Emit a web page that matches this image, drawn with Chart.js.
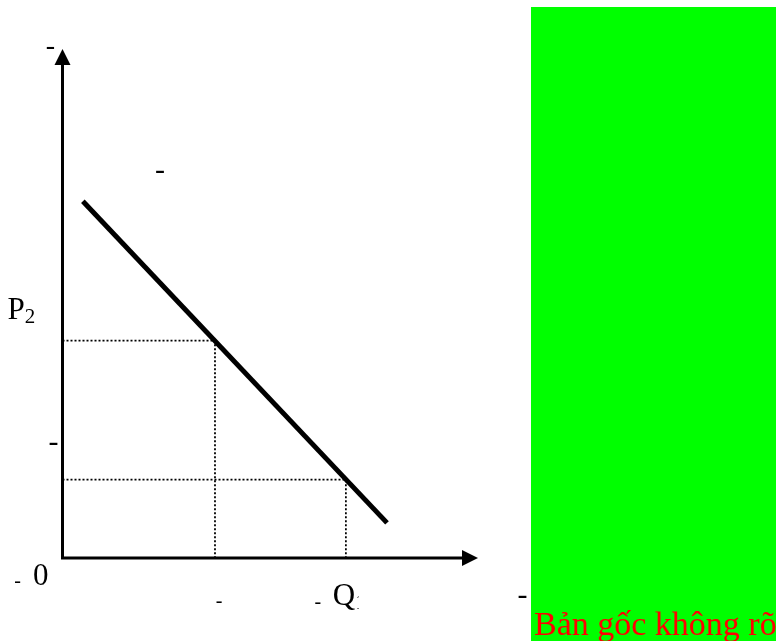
<!DOCTYPE html>
<html>
<head>
<meta charset="utf-8">
<script src="https://cdn.jsdelivr.net/npm/chart.js@4.4.1/dist/chart.umd.min.js"></script>
<style>
  html, body { margin: 0; padding: 0; background: #fff; overflow: hidden; }
  #wrap { width: 776px; height: 641px; position: relative; }
</style>
</head>
<body>
<div id="wrap"><canvas id="demandChart"></canvas></div>
<script>
// demand curve end points (quantity, price)
const demandQ = [4.9, 78.1];
const demandP = [70.1, 6.9];

// marked points on the curve
const markQ = [36.7, 68.2];
const markP = [42.7, 15.4];

// tick labels: first letter is the symbol, the rest is the subscript
const priceTickLabels = ['P2', ''];
const qtyTickLabels = ['', 'Q1'];
const originLabel = '0';
const noteText = 'Bản gốc không rõ';

const SERIF = '"Liberation Serif", "Times New Roman", serif';

const demandLine = demandQ.map((q, i) => ({ x: q, y: demandP[i] }));

// dotted guides from each marked point to both axes
const guideSets = markQ.map((q, i) => ({
    data: [{ x: 0, y: markP[i] }, { x: q, y: markP[i] }, { x: q, y: 0 }],
    borderColor: '#000',
    borderWidth: 1.8,
    borderDash: [2, 2],
    pointRadius: 0,
    fill: false,
    tension: 0
}));

function hyphen(ctx, cx, cy, size) {
    ctx.font = size + 'px ' + SERIF;
    ctx.textAlign = 'center';
    ctx.textBaseline = 'alphabetic';
    ctx.fillText('-', cx, cy + size * 0.23);
}

function subLabel(ctx, text, x, base, size, clipRight) {
    ctx.textAlign = 'left';
    ctx.textBaseline = 'alphabetic';
    ctx.font = size + 'px ' + SERIF;
    ctx.fillText(text[0], x, base);
    const w = ctx.measureText(text[0]).width;
    if (text.length > 1) {
        ctx.save();
        if (clipRight) {
            ctx.beginPath();
            ctx.rect(0, 0, clipRight, 641);
            ctx.clip();
        }
        ctx.font = Math.round(size * 0.67) + 'px ' + SERIF;
        ctx.fillText(text.slice(1), x + w, base + 4);
        ctx.restore();
    }
}

const axesPlugin = {
    id: 'axesPlugin',
    afterDatasetsDraw(chart) {
        const { ctx, chartArea: a, scales: { x, y } } = chart;
        ctx.save();
        ctx.fillStyle = '#000';
        ctx.strokeStyle = '#000';
        ctx.lineWidth = 3;

        // axes with arrow heads
        ctx.beginPath();
        ctx.moveTo(a.left, a.top + 14);
        ctx.lineTo(a.left, a.bottom);
        ctx.lineTo(a.right - 14, a.bottom);
        ctx.stroke();
        ctx.beginPath();
        ctx.moveTo(a.left, a.top);
        ctx.lineTo(a.left - 8, a.top + 16);
        ctx.lineTo(a.left + 8, a.top + 16);
        ctx.closePath();
        ctx.fill();
        ctx.beginPath();
        ctx.moveTo(a.right, a.bottom);
        ctx.lineTo(a.right - 16, a.bottom - 8);
        ctx.lineTo(a.right - 16, a.bottom + 8);
        ctx.closePath();
        ctx.fill();

        // tick labels
        priceTickLabels.forEach((t, i) => {
            if (t) subLabel(ctx, t, a.left - 55, y.getPixelForValue(markP[i]) - 22, 31);
        });
        qtyTickLabels.forEach((t, i) => {
            if (t) {
                const px = x.getPixelForValue(markQ[i]);
                subLabel(ctx, t, px - 13, a.bottom + 47, 31, px + 13);
                hyphen(ctx, px - 28, a.bottom + 45, 20);
            }
        });
        ctx.font = '31px ' + SERIF;
        ctx.textAlign = 'left';
        ctx.fillText(originLabel, a.left - 29.5, a.bottom + 27);

        // stray dashes
        hyphen(ctx, a.left - 12, a.top - 1, 28);
        hyphen(ctx, 160, 172, 30);
        hyphen(ctx, a.left - 9, 444, 30);
        hyphen(ctx, a.left - 45, a.bottom + 24, 20);
        hyphen(ctx, x.getPixelForValue(markQ[0]) + 4, a.bottom + 44, 20);

        // green note panel
        ctx.fillStyle = '#00ff00';
        ctx.fillRect(531, 7, 245, 634);
        ctx.fillStyle = '#000';
        hyphen(ctx, 522.5, 597, 30);
        ctx.fillStyle = '#ff0000';
        ctx.font = '34px ' + SERIF;
        ctx.textAlign = 'left';
        ctx.fillText(noteText, 534, 635);
        ctx.restore();
    }
};

new Chart(document.getElementById('demandChart'), {
    type: 'scatter',
    data: {
        datasets: [
            ...guideSets,
            {
                data: demandLine,
                borderColor: '#000',
                borderWidth: 5,
                pointRadius: 0,
                fill: false,
                tension: 0
            }
        ].map(d => Object.assign({ showLine: true }, d))
    },
    options: {
        responsive: true,
        maintainAspectRatio: false,
        animation: false,
        events: [],
        layout: { padding: { left: 62.5, right: 298, top: 49, bottom: 83 } },
        plugins: { legend: { display: false }, tooltip: { enabled: false } },
        scales: {
            x: { type: 'linear', min: 0, max: 100, display: false },
            y: { type: 'linear', min: 0, max: 100, display: false }
        }
    },
    plugins: [axesPlugin]
});
</script>
</body>
</html>
